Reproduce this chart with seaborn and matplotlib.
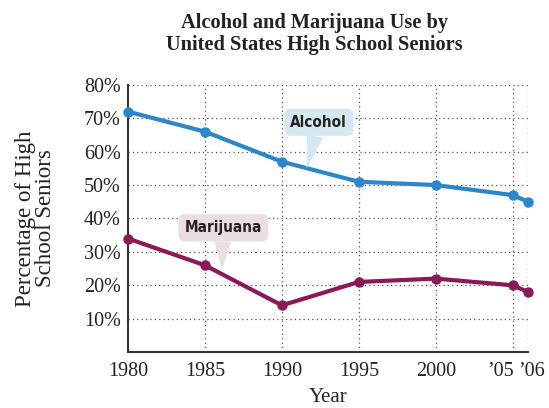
import matplotlib
matplotlib.use("Agg")
import matplotlib.pyplot as plt
import seaborn as sns
import pandas as pd
from matplotlib.transforms import ScaledTranslation

years = [1980, 1985, 1990, 1995, 2000, 2005, 2006]
alcohol = [72, 66, 57, 51, 50, 47, 45]
marijuana = [34, 26, 14, 21, 22, 20, 18]
x_tick_labels = ["1980", "1985", "1990", "1995", "2000", "\u201905", "\u201906"]
y_ticks = [10, 20, 30, 40, 50, 60, 70, 80]
y_tick_labels = [f"{v}%" for v in y_ticks]
series_names = ["Alcohol", "Marijuana"]
colors = {"Alcohol": "#2b87c9", "Marijuana": "#8c1957"}
bubble_fill = {"Alcohol": "#d5e8f1", "Marijuana": "#eadde3"}

df = pd.DataFrame({
    "Year": years * 2,
    "Value": alcohol + marijuana,
    "Series": ["Alcohol"] * len(years) + ["Marijuana"] * len(years),
})

sns.set_style("white")
plt.rcParams["font.family"] = ["Liberation Serif", "DejaVu Serif"]

fig = plt.figure(figsize=(5.49, 4.08), dpi=100)
ax = fig.add_axes([0.233, 0.137, 0.729, 0.655])

sns.lineplot(data=df, x="Year", y="Value", hue="Series", palette=colors,
             marker="o", markersize=7.5, markeredgewidth=0, linewidth=3,
             legend=False, ax=ax, zorder=3)
for line in ax.get_lines():
    line.set_clip_on(False)

ax.set_xlim(1980, 2006)
ax.set_ylim(0, 80)
ax.set_xticks(years)
ax.set_xticklabels(x_tick_labels, fontsize=14.5)
ax.set_yticks(y_ticks)
ax.set_yticklabels(y_tick_labels, fontsize=14.5)
ax.tick_params(axis="both", direction="in", length=7, width=1.2, color="#333333",
               pad=5, labelcolor="#222222")
ax.tick_params(axis="x", pad=7)
xlabels = ax.get_xticklabels()
xlabels[-2].set_ha("right")
xlabels[-2].set_transform(xlabels[-2].get_transform() +
                          ScaledTranslation(1 / 100, 0, fig.dpi_scale_trans))
xlabels[-1].set_transform(xlabels[-1].get_transform() +
                          ScaledTranslation(3 / 100, 0, fig.dpi_scale_trans))

for v in y_ticks:
    ax.axhline(v, color="#555555", linestyle=(0, (1, 2.5)), linewidth=0.9, zorder=1)
for yr in years[1:]:
    ax.axvline(yr, color="#555555", linestyle=(0, (1, 2.5)), linewidth=0.9, zorder=1)
for s in ["top", "right"]:
    ax.spines[s].set_visible(False)
for s in ["left", "bottom"]:
    ax.spines[s].set_color("#333333")
    ax.spines[s].set_linewidth(1.5)

ax.set_xlabel("Year", fontsize=15, color="#222222", labelpad=5)
ax.set_ylabel("Percentage of High\nSchool Seniors", fontsize=16.5, color="#222222",
              linespacing=0.9)
ax.yaxis.set_label_coords(-0.18, 0.5)

fig.suptitle("Alcohol and Marijuana Use by\nUnited States High School Seniors",
             x=0.573, y=0.968, fontsize=14.7, fontweight="bold", linespacing=1.1,
             color="#222222")

label_font = dict(family=["DejaVu Sans"], fontstretch="condensed", fontweight="bold",
                  fontsize=11, color="#222222")
callouts = {
    "Alcohol": ((1991.6, 55), (1992.4, 68.8)),
    "Marijuana": ((1986.1, 24.8), (1986.2, 37.2)),
}
for name in series_names:
    tip, txt = callouts[name]
    ax.annotate(name, xy=tip, xytext=txt, ha="center", va="center", **label_font,
                bbox=dict(boxstyle="round,pad=0.4,rounding_size=0.4",
                          fc=bubble_fill[name], ec="none"),
                arrowprops=dict(arrowstyle="wedge,tail_width=1.1,shrink_factor=0.5",
                                fc=bubble_fill[name], ec="none", shrinkA=0, shrinkB=0),
                zorder=4)

fig.savefig("out.png", dpi=100)
